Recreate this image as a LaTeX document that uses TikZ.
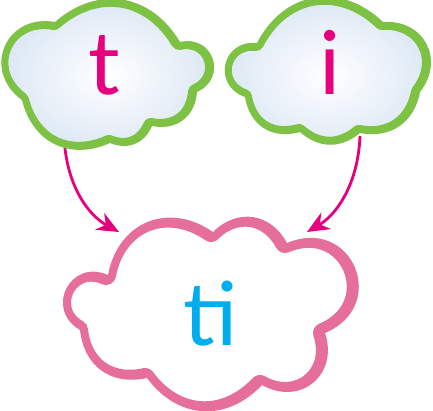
\documentclass[tikz,border=0pt]{standalone}
\usepackage{fontspec}
\setmainfont{Lato}
\usetikzlibrary{arrows.meta}
\definecolor{cgreen}{RGB}{125,194,66}
\definecolor{cpink}{RGB}{229,110,155}
\definecolor{cmag}{RGB}{230,0,126}
\definecolor{ccyan}{RGB}{0,174,239}
\definecolor{cblue}{RGB}{210,225,242}
\tikzset{
  letter/.style={font=\fontsize{88}{88}\selectfont, inner sep=0pt, anchor=base},
  link/.style={draw=cmag, line width=2.8pt, -{Stealth[length=22pt,width=19pt,inset=7pt]}},
  bump/.style 2 args={bend left=#1, looseness=#2}
}
\def\leftpath{(55,22) to[bump={50}{1.15}] (180,42) to[bump={84}{1.66}] (197,92) to[bump={48}{1.14}] (152,126)
  to[bump={44}{1.1}] (110,143) to[bump={50}{1.15}] (22,100) to[bump={77}{1.52}] (55,22) -- cycle}
\def\rightpath{(257,43) to[bump={53}{1.18}] (383,22) to[bump={66}{1.33}] (420,92) to[bump={45}{1.1}] (360,133)
  to[bump={40}{1.08}] (300,132) to[bump={48}{1.14}] (245,97) to[bump={83}{1.63}] (257,43) -- cycle}
\def\bottompath{(213,232) to[bump={53}{1.18}] (287,243) to[bump={90}{1.85}] (325,333) to[bump={69}{1.38}] (262,385)
  to[bump={50}{1.15}] (147,378) to[bump={48}{1.14}] (80,330) to[bump={87}{1.72}] (108,275) to[bump={57}{1.22}] (213,232) -- cycle}
\begin{document}
\begin{tikzpicture}[x=1pt,y=-1pt,line join=round]
\useasboundingbox (0,0) rectangle (433,411);
% bottom cloud
\fill[white] \bottompath;
\begin{scope}
\clip \bottompath;
\draw[cpink, line width=20pt, xshift=-2pt] \bottompath;
\end{scope}
\node[letter, text=ccyan] (ti) at (211,345) {ti};
\coordinate (bl) at (119,232);
\coordinate (br) at (307,232);
% arrows
\coordinate (tl) at (64,136);
\coordinate (tr) at (360,136);
\draw[link] (tl) .. controls (66,185) and (88,215) .. (bl);
\draw[link] (tr) .. controls (358,185) and (336,215) .. (br);
% left cloud
\begin{scope}
\clip \leftpath;
\shade[inner color=white, outer color=cblue] (108,76) ellipse (135pt and 100pt);
\draw[cgreen, line width=16pt, xshift=-1pt] \leftpath;
\end{scope}
\node[letter, text=cmag] (t) at (104,95) {t};
% right cloud
\begin{scope}
\clip \rightpath;
\shade[inner color=white, outer color=cblue] (328,76) ellipse (135pt and 100pt);
\draw[cgreen, line width=16pt, xshift=-1pt] \rightpath;
\end{scope}
\node[letter, text=cmag] (i) at (330,95) {i};
\end{tikzpicture}
\end{document}
